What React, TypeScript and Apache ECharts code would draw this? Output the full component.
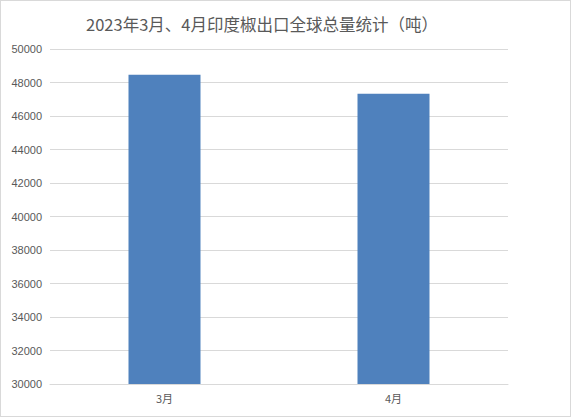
import { useEffect, useRef } from 'react';
import * as echarts from 'echarts';

const months = ['3月', '4月'];
const exportTons = [48460, 47330];
const chartTitle = '2023年3月、4月印度椒出口全球总量统计（吨）';

export default function App() {
  const chartRef = useRef<HTMLDivElement>(null);

  useEffect(() => {
    document.body.style.margin = '0';
    if (!chartRef.current) return;
    const chart = echarts.init(chartRef.current, undefined, { renderer: 'svg' });

    chart.setOption({
      animation: false,
      title: {
        text: chartTitle,
        left: 80,
        top: 10,
        textStyle: {
          fontFamily: 'Noto Sans CJK SC',
          fontSize: 16.5,
          fontWeight: 'normal',
          color: '#595959'
        }
      },
      grid: { left: 49, right: 62, top: 48, bottom: 32, containLabel: false },
      xAxis: {
        type: 'category',
        data: months,
        axisLine: { show: true, lineStyle: { color: '#d9d9d9' } },
        axisTick: { show: false },
        axisLabel: {
          color: '#595959',
          fontSize: 11,
          margin: 8,
          fontFamily: 'Noto Sans CJK SC'
        }
      },
      yAxis: {
        type: 'value',
        min: 30000,
        max: 50000,
        interval: 2000,
        axisLine: { show: false },
        axisTick: { show: false },
        axisLabel: {
          color: '#595959',
          fontSize: 11,
          margin: 8,
          fontFamily: 'Liberation Sans',
          formatter: (v: number) => String(v)
        },
        splitLine: { lineStyle: { color: '#d9d9d9' } }
      },
      series: [
        {
          type: 'bar',
          data: exportTons,
          barWidth: 72,
          itemStyle: { color: '#4f81bd' }
        }
      ]
    });

    return () => chart.dispose();
  }, []);

  return (
    <div
      ref={chartRef}
      style={{
        width: 571,
        height: 417,
        boxSizing: 'border-box',
        border: '1px solid #d9d9d9',
        background: '#fff'
      }}
    />
  );
}
